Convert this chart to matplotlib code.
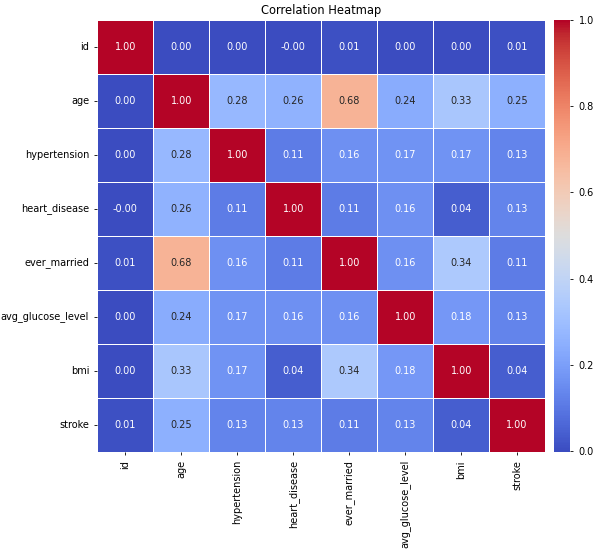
import numpy as np
import pandas as pd
import matplotlib
matplotlib.use('Agg')
import matplotlib.pyplot as plt
import seaborn as sns

labels = ['id', 'age', 'hypertension', 'heart_disease', 'ever_married',
          'avg_glucose_level', 'bmi', 'stroke']

id_row = [1.00, 0.00, 0.00, -0.001, 0.01, 0.00, 0.00, 0.01]
age_row = [0.00, 1.00, 0.28, 0.26, 0.68, 0.24, 0.33, 0.25]
hyp_row = [0.00, 0.28, 1.00, 0.11, 0.16, 0.17, 0.17, 0.13]
heart_row = [-0.001, 0.26, 0.11, 1.00, 0.11, 0.16, 0.04, 0.13]
married_row = [0.01, 0.68, 0.16, 0.11, 1.00, 0.16, 0.34, 0.11]
glucose_row = [0.00, 0.24, 0.17, 0.16, 0.16, 1.00, 0.18, 0.13]
bmi_row = [0.00, 0.33, 0.17, 0.04, 0.34, 0.18, 1.00, 0.04]
stroke_row = [0.01, 0.25, 0.13, 0.13, 0.11, 0.13, 0.04, 1.00]

corr = pd.DataFrame([id_row, age_row, hyp_row, heart_row, married_row,
                     glucose_row, bmi_row, stroke_row],
                    index=labels, columns=labels)

fig = plt.figure(figsize=(6.01, 5.51), dpi=100)
ax = fig.add_axes([0.162, 0.18, 0.745, 0.784])
cax = fig.add_axes([0.921, 0.18, 0.028, 0.784])
sns.heatmap(corr, annot=True, fmt='.2f', cmap='coolwarm', linewidths=0.5,
            linecolor='white', ax=ax, cbar_ax=cax, annot_kws={'fontsize': 7})
ax.set_title('Correlation Heatmap', fontsize=8.3, pad=4)
ax.tick_params(labelsize=7, length=2.4, width=0.6)
cax.tick_params(labelsize=7, length=2.4, width=0.6)
plt.setp(ax.get_xticklabels(), rotation=90)
plt.setp(ax.get_yticklabels(), rotation=0)
fig.savefig('out.png', dpi=100)
